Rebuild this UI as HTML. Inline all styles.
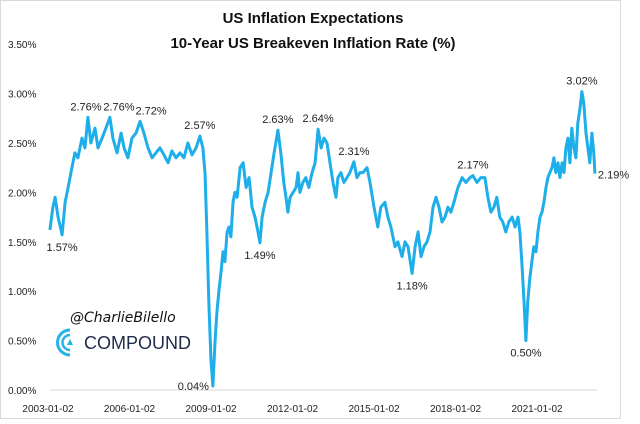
<!DOCTYPE html>
<html><head><meta charset="utf-8"><style>
html,body{margin:0;padding:0;background:#fff;width:640px;height:424px;overflow:hidden}
svg{display:block;font-family:"Liberation Sans",sans-serif}
</style></head><body>
<svg id="chart" width="640" height="424">
<rect x="0.5" y="0.5" width="620" height="418" fill="#fff" stroke="#d9d9d9"/>
<text x="313" y="23" text-anchor="middle" font-size="15" font-weight="bold" fill="#111">US Inflation Expectations</text>
<text x="313" y="48" text-anchor="middle" font-size="15" font-weight="bold" fill="#111">10-Year US Breakeven Inflation Rate (%)</text>
<g id="yaxis"></g>
<g id="xaxis"></g>
<line x1="50" y1="390" x2="597" y2="390" stroke="#d9d9d9"/>
<path id="line" fill="none" stroke="#1eaeea" stroke-width="3" stroke-linejoin="round"/>
<g id="annots"></g>
<g>
<text x="70" y="322" font-size="14" font-style="italic" fill="#111" font-family="'DejaVu Sans',sans-serif">@CharlieBilello</text>
<path d="M70 330 A12 12 0 1 0 70 355" fill="none" stroke="#25b3e8" stroke-width="3"/>
<path d="M70 335 A7.5 7.5 0 1 0 70 350" fill="none" stroke="#25b3e8" stroke-width="2.5"/>
<polygon points="67,345 70,339 73,345" fill="#25b3e8"/>
<text x="84" y="349" font-size="18" fill="#1f2b4a">COMPOUND</text>
</g>
</svg>
<script>
const yTicks=[0,0.5,1,1.5,2,2.5,3,3.5];
const xTickYears=[0,3,6,9,12,15,18];
const xTickLabels=["2003-01-02","2006-01-02","2009-01-02","2012-01-02","2015-01-02","2018-01-02","2021-01-02"];
const tYears=[0.07,0.18,0.26,0.37,0.52,0.63,0.74,0.88,0.99,1.10,1.25,1.36,1.47,1.58,1.73,1.84,1.99,2.13,2.28,2.39,2.54,2.69,2.80,2.94,3.09,3.24,3.39,3.53,3.68,3.83,3.97,4.12,4.27,4.42,4.56,4.71,4.86,5.00,5.15,5.30,5.45,5.59,5.70,5.78,5.85,5.92,6.00,6.07,6.15,6.22,6.29,6.37,6.44,6.51,6.59,6.66,6.73,6.81,6.88,6.96,7.07,7.18,7.29,7.40,7.51,7.62,7.73,7.80,7.88,7.99,8.10,8.21,8.32,8.46,8.57,8.68,8.76,8.83,8.91,9.02,9.13,9.20,9.27,9.38,9.49,9.60,9.72,9.83,9.94,10.05,10.16,10.27,10.38,10.49,10.60,10.67,10.78,10.89,11.00,11.11,11.26,11.37,11.48,11.59,11.74,11.85,12.00,12.14,12.25,12.40,12.51,12.62,12.77,12.88,13.03,13.14,13.25,13.40,13.51,13.62,13.73,13.84,13.95,14.06,14.17,14.28,14.39,14.50,14.61,14.72,14.83,14.94,15.09,15.24,15.38,15.53,15.64,15.79,15.93,16.08,16.19,16.30,16.41,16.52,16.63,16.74,16.85,16.96,17.08,17.19,17.30,17.37,17.44,17.52,17.59,17.66,17.74,17.81,17.88,17.96,18.03,18.11,18.18,18.25,18.33,18.40,18.47,18.55,18.62,18.69,18.77,18.84,18.92,18.99,19.06,19.14,19.21,19.28,19.36,19.43,19.50,19.58,19.65,19.72,19.80,19.87,19.94,20.02,20.09,20.13];
const rates=[1.62,1.85,1.95,1.75,1.57,1.9,2.05,2.25,2.40,2.35,2.55,2.45,2.76,2.5,2.65,2.45,2.55,2.65,2.76,2.55,2.4,2.6,2.45,2.35,2.55,2.6,2.72,2.6,2.45,2.35,2.40,2.45,2.38,2.3,2.42,2.35,2.4,2.35,2.5,2.38,2.45,2.57,2.45,2.2,1.6,0.9,0.3,0.04,0.5,0.8,1.0,1.2,1.4,1.3,1.6,1.65,1.55,1.9,2.0,1.95,2.25,2.30,2.05,2.15,1.85,1.75,1.60,1.49,1.75,1.9,2.0,2.2,2.4,2.63,2.4,2.1,1.95,1.8,1.95,2.0,2.05,2.2,2.0,2.1,2.15,2.05,2.2,2.3,2.64,2.45,2.55,2.5,2.3,2.1,1.95,2.15,2.2,2.1,2.15,2.2,2.31,2.15,2.2,2.2,2.25,2.1,1.85,1.65,1.85,1.9,1.75,1.65,1.45,1.5,1.35,1.5,1.45,1.18,1.45,1.6,1.35,1.45,1.5,1.6,1.85,1.95,1.85,1.7,1.75,1.85,1.8,1.9,2.05,2.15,2.1,2.15,2.17,2.1,2.15,2.15,1.95,1.8,1.85,1.95,1.75,1.7,1.6,1.7,1.75,1.65,1.75,1.6,1.3,0.9,0.50,0.9,1.15,1.3,1.45,1.4,1.6,1.75,1.8,1.9,2.05,2.15,2.2,2.25,2.35,2.2,2.3,2.15,2.3,2.2,2.45,2.55,2.3,2.65,2.45,2.35,2.7,2.85,3.02,2.9,2.6,2.45,2.3,2.6,2.4,2.19];
const annotIdx=[4,12,18,26,41,47,67,73,88,100,117,136,154,182,189];
const annotPos=["b","t","t","t","t","l","b","t","t","t","b","t","b","t","r"];
const annotDx=[0,-2,9,11,0,0,0,0,0,0,0,0,0,0,0];
const xs=t=>48+t*27.17, ys=v=>390-v*98.8;
const NS="http://www.w3.org/2000/svg";
const ya=document.getElementById('yaxis');
yTicks.forEach(v=>{const e=document.createElementNS(NS,'text');


e.setAttribute('x',8);e.setAttribute('y',ys(v)+4);e.setAttribute('font-size','10');e.setAttribute('fill','#222');
e.textContent=v.toFixed(2)+'%';ya.appendChild(e);});
const xa=document.getElementById('xaxis');
xTickYears.forEach((t,i)=>{const e=document.createElementNS(NS,'text');


e.setAttribute('x',xs(t));e.setAttribute('y',412);e.setAttribute('font-size','10');e.setAttribute('text-anchor','middle');e.setAttribute('fill','#222');
e.textContent=xTickLabels[i];xa.appendChild(e);});
document.getElementById('line').setAttribute('d',tYears.map((t,i)=>(i?'L':'M')+xs(t).toFixed(1)+' '+ys(rates[i]).toFixed(1)).join(' '));
const an=document.getElementById('annots');
annotIdx.forEach((k,i)=>{const e=document.createElementNS(NS,'text');


let x=xs(tYears[k])+annotDx[i],y=ys(rates[k]),p=annotPos[i],anc='middle';
if(p==='t')y-=7;else if(p==='b')y+=16;else if(p==='l'){x-=4;y+=4;anc='end';}else{x+=3;y+=5;anc='start';}
e.setAttribute('x',x);e.setAttribute('y',y);e.setAttribute('font-size','11');e.setAttribute('text-anchor',anc);e.setAttribute('fill','#222');
e.textContent=rates[k].toFixed(2)+'%';an.appendChild(e);});
</script>
</body></html>
